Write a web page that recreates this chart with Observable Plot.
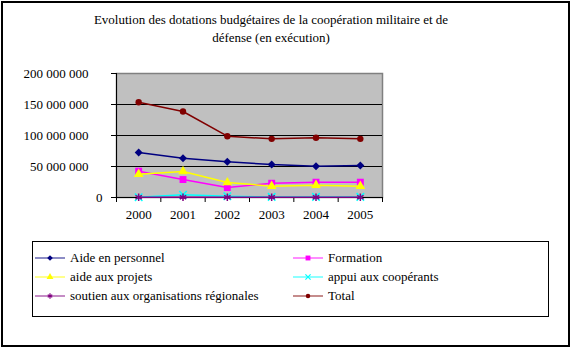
<!DOCTYPE html>
<html><head><meta charset="utf-8">
<script src="https://cdn.jsdelivr.net/npm/d3@7"></script>
<script src="https://cdn.jsdelivr.net/npm/@observablehq/plot@0.6"></script>
<style>
body{margin:0;background:#fff;font-family:'Liberation Serif',serif;}
#wrap{position:relative;width:572px;height:353px;overflow:hidden;}
#border{position:absolute;left:1px;top:1px;width:569px;height:346px;border:2px solid #000;box-sizing:border-box;}
#title{position:absolute;left:0;top:11px;width:542px;text-align:center;font-size:13px;line-height:18px;color:#000;}
#chart{position:absolute;left:0;top:0;}
#legend{position:absolute;left:32px;top:241px;width:517px;height:76px;border:1px solid #000;box-sizing:border-box;font-size:13px;}
.item{position:absolute;height:16px;display:flex;align-items:center;white-space:nowrap;}
.item svg{margin-right:5px;}
</style></head>
<body>
<div id="wrap">
<div id="border"></div>
<div id="title">Evolution des dotations budgétaires de la coopération militaire et de<br>défense (en exécution)</div>
<div id="chart"></div>
<div id="legend"></div>
</div>
<script>
// ---- data ----
const years = [2000, 2001, 2002, 2003, 2004, 2005];
const aideEnPersonnel = [72.6e6, 63.4e6, 57.5e6, 53.2e6, 50.5e6, 51.6e6];
const formation = [42.5e6, 29e6, 16e6, 23e6, 24.7e6, 24.7e6];
const aideAuxProjets = [37.6e6, 42e6, 24.2e6, 18.3e6, 19.9e6, 18.3e6];
const appuiAuxCooperants = [0.5e6, 4.5e6, 2e6, 1e6, 1e6, 1e6];
const soutienOrgRegionales = [0.3e6, 0.3e6, 0.3e6, 0.3e6, 0.3e6, 0.3e6];
const total = [153.7e6, 138.7e6, 98.9e6, 94.6e6, 96.3e6, 94.6e6];
const yTicks = [0, 50e6, 100e6, 150e6, 200e6];
const seriesNames = ["Aide en personnel", "Formation", "aide aux projets", "appui aux coopérants", "soutien aux organisations régionales", "Total"];

// ---- styling ----
const FONT = "'Liberation Serif', serif";
const seriesDefs = [
  {name: seriesNames[0], values: aideEnPersonnel, color: "#000080", symbol: "diamond2", r: 3.6, filled: true},
  {name: seriesNames[1], values: formation, color: "#ff00ff", symbol: "square", r: 3.9, filled: true},
  {name: seriesNames[2], values: aideAuxProjets, color: "#ffff00", symbol: "triangle", r: 3.6, filled: true},
  {name: seriesNames[3], values: appuiAuxCooperants, color: "#00ffff", symbol: "times", r: 3.5, filled: false},
  {name: seriesNames[4], values: soutienOrgRegionales, color: "#800080", symbol: "asterisk", r: 3.5, filled: false},
  {name: seriesNames[5], values: total, color: "#800000", symbol: "circle", r: 3.2, filled: true}
];

const fmt = d => d3.format(",")(d).replace(/,/g, "\u00a0");
const boundaries = years.map(y => y - 0.5).concat([years[years.length - 1] + 0.5]);

const marks = [
  Plot.frame({fill: "#c0c0c0", stroke: "#808080", strokeWidth: 1.5}),
  Plot.ruleY(yTicks.filter(d => d > 0 && d < 200e6), {stroke: "#000", strokeWidth: 1}),
  Plot.ruleY([0], {stroke: "#000", strokeWidth: 1}),
  Plot.ruleX([boundaries[0]], {stroke: "#000", strokeWidth: 1}),
  Plot.axisY(yTicks.filter(d => d > 0), {tickSize: 5, tickPadding: 23, tickFormat: fmt, label: null, color: "#000", fontSize: 13, fontFamily: FONT}),
  Plot.axisY([0], {tickSize: 5, tickPadding: 9, tickFormat: fmt, label: null, color: "#000", fontSize: 13, fontFamily: FONT}),
  Plot.axisX(boundaries, {tickSize: 5, tickFormat: () => "", label: null, color: "#000"}),
  Plot.axisX(years, {tickSize: 0, tickPadding: 12, tickFormat: d => String(d), label: null, color: "#000", fontSize: 13, fontFamily: FONT})
];

for (const s of seriesDefs) {
  const data = years.map((y, i) => ({year: y, value: s.values[i]}));
  marks.push(Plot.line(data, {x: "year", y: "value", stroke: s.color, strokeWidth: 1.5}));
  marks.push(Plot.dot(data, {
    x: "year", y: "value", symbol: s.symbol, r: s.r,
    fill: s.filled ? s.color : "none",
    stroke: s.filled ? "none" : s.color,
    strokeWidth: s.filled ? 0 : 1.5
  }));
}

const chart = Plot.plot({
  width: 572, height: 353,
  marginLeft: 116, marginRight: 190, marginTop: 73, marginBottom: 156,
  x: {domain: [boundaries[0], boundaries[boundaries.length - 1]]},
  y: {domain: [0, 200e6]},
  style: {fontFamily: FONT, fontSize: "13px", background: "transparent", color: "#000"},
  marks
});
document.getElementById("chart").appendChild(chart);

// ---- legend ----
const legend = document.getElementById("legend");
const symMap = {diamond2: d3.symbolDiamond2, square: d3.symbolSquare, triangle: d3.symbolTriangle, times: d3.symbolTimes, asterisk: d3.symbolAsterisk, circle: d3.symbolCircle};
seriesDefs.forEach((s, k) => {
  const col = k % 2, row = Math.floor(k / 2);
  const div = document.createElement("div");
  div.className = "item";
  div.style.left = (col === 0 ? 2 : 260) + "px";
  div.style.top = (8 + row * 19) + "px";
  const path = d3.symbol(symMap[s.symbol], Math.PI * s.r * s.r * 0.5)();
  div.innerHTML = `<svg width="30" height="12"><line x1="0" x2="30" y1="6" y2="6" stroke="${s.color}" stroke-width="1.5" opacity="0.6"/><path transform="translate(15,6)" d="${path}" fill="${s.filled ? s.color : "none"}" stroke="${s.filled ? "none" : s.color}" stroke-width="1.2"/></svg><span>${s.name}</span>`;
  legend.appendChild(div);
});
</script>
</body></html>
